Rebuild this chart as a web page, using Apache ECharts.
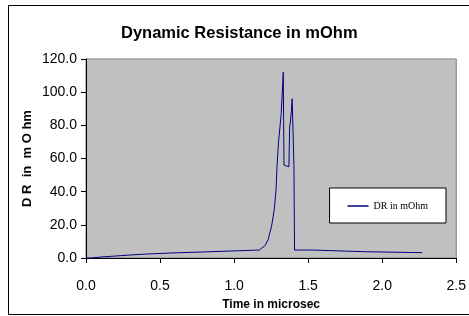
<!DOCTYPE html>
<html>
<head>
<meta charset="utf-8">
<script src="https://cdn.jsdelivr.net/npm/echarts@6/dist/echarts.min.js"></script>
<style>
  html, body { margin: 0; padding: 0; background: #fff; }
  #chart { width: 469px; height: 316px; }
</style>
</head>
<body>
<div id="chart"></div>
<script>
  // time in microsec, DR in mOhm
  let timeUs = [0.0, 0.038, 0.038, 0.10, 0.10, 0.20, 0.20, 0.30, 0.30, 0.41, 0.41, 0.57, 0.57, 0.78, 0.78,
    1.17, 1.21, 1.23, 1.253, 1.271, 1.283, 1.29, 1.30, 1.318, 1.326, 1.332, 1.334, 1.337,
    1.355, 1.370, 1.375, 1.380, 1.386, 1.392, 1.398, 1.404, 1.408,
    1.53, 1.54, 1.876, 1.88, 2.27];
  let drMOhm = [0.0, 0.0, 0.6, 0.6, 1.2, 1.2, 1.8, 1.8, 2.4, 2.4, 3.0, 3.0, 3.6, 3.6, 4.6,
    4.8, 7.6, 11.2, 19.2, 29.2, 41.0, 56.0, 70.0, 87.0, 88.0, 112.0, 86.0, 56.0,
    55.5, 55.0, 79.0, 82.0, 88.0, 96.0, 95.5, 55.0, 4.8,
    4.8, 4.0, 3.8, 3.2, 3.2];
  let xTicks = [0, 2.5, 0.5];
  let yTicks = [0, 120, 20];

  let points = timeUs.map((t, i) => [t, drMOhm[i]]);

  let chart = echarts.init(document.getElementById('chart'));
  let axisText = { color: '#000', fontFamily: 'Arial', fontSize: 14 };
  chart.setOption({
    animation: false,
    title: {
      text: 'Dynamic Resistance in mOhm',
      left: 116,
      top: 20,
      textStyle: { fontFamily: 'Arial', fontWeight: 'bold', fontSize: 16.5, color: '#000' }
    },
    graphic: [{
      type: 'rect',
      shape: { x: 8.5, y: 5.5, width: 480, height: 309 },
      style: { fill: 'none', stroke: '#000', lineWidth: 1 },
      z: -10
    }],
    legend: {
      right: 23,
      top: 188,
      orient: 'vertical',
      backgroundColor: '#fff',
      borderColor: '#000',
      borderWidth: 1,
      padding: [13, 18, 12, 18],
      itemWidth: 21,
      itemHeight: 1.5,
      icon: 'rect',
      textStyle: { fontFamily: 'Liberation Serif', fontSize: 10, color: '#000' },
      data: ['DR in mOhm']
    },
    grid: {
      left: 86, right: 9, top: 59, bottom: 57,
      show: true,
      backgroundColor: '#c0c0c0',
      borderColor: '#808080',
      borderWidth: 1
    },
    xAxis: {
      type: 'value',
      min: xTicks[0], max: xTicks[1], interval: xTicks[2],
      name: 'Time in microsec',
      nameLocation: 'middle',
      nameGap: 41,
      nameMoveOverlap: false,
      nameTextStyle: { fontFamily: 'Arial', fontWeight: 'bold', fontSize: 12, color: '#000' },
      axisLine: { show: true, lineStyle: { color: '#000', width: 1 } },
      axisTick: { show: true, inside: false, length: 5, lineStyle: { color: '#000' } },
      axisLabel: Object.assign({ margin: 21, formatter: v => v.toFixed(1) }, axisText),
      splitLine: { show: false }
    },
    yAxis: {
      type: 'value',
      min: yTicks[0], max: yTicks[1], interval: yTicks[2],
      name: 'D R  in  m O hm',
      nameLocation: 'middle',
      nameGap: 52,
      nameMoveOverlap: false,
      nameRotate: 90,
      nameTextStyle: { fontFamily: 'Arial', fontWeight: 'bold', fontSize: 13, color: '#000' },
      axisLine: { show: true, lineStyle: { color: '#000', width: 1 } },
      axisTick: { show: true, inside: false, length: 5, lineStyle: { color: '#000' } },
      axisLabel: Object.assign({ margin: 9, formatter: v => v.toFixed(1) }, axisText),
      splitLine: { show: false }
    },
    series: [{
      name: 'DR in mOhm',
      type: 'line',
      showSymbol: false,
      color: '#000080',
      lineStyle: { color: '#000080', width: 1 },
      data: points
    }]
  });
</script>
</body>
</html>
